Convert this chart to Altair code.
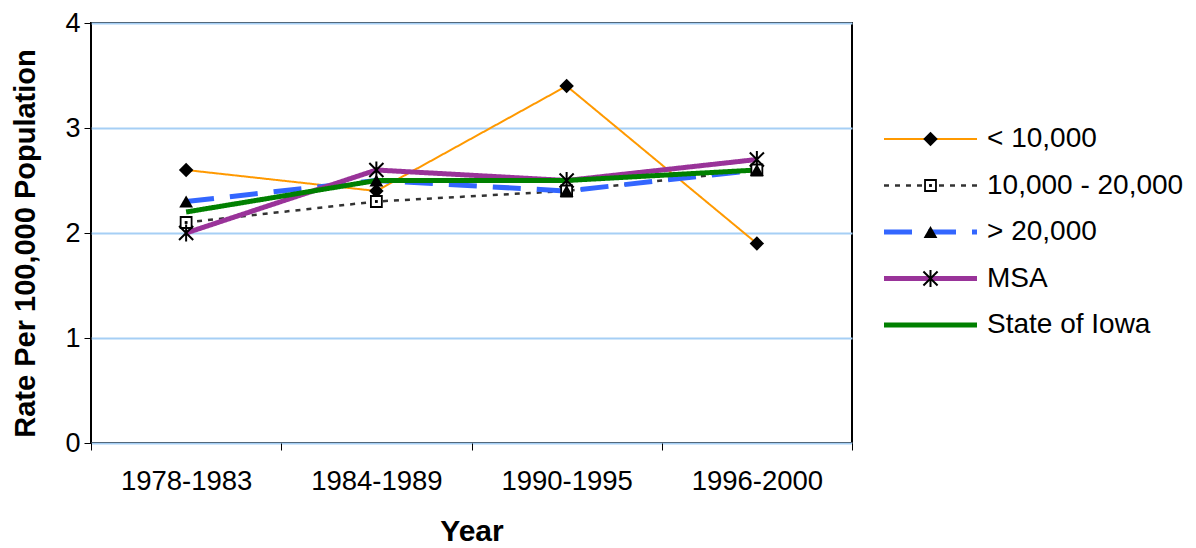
import altair as alt
import pandas as pd

periods = ["1978-1983", "1984-1989", "1990-1995", "1996-2000"]
series_names = ["< 10,000", "10,000 - 20,000", "> 20,000", "MSA", "State of Iowa"]
lt_10k = [2.6, 2.4, 3.4, 1.9]
k10_20 = [2.1, 2.3, 2.4, 2.6]
gt_20k = [2.3, 2.5, 2.4, 2.6]
msa = [2.0, 2.6, 2.5, 2.7]
iowa = [2.2, 2.5, 2.5, 2.6]
y_ticks = [0, 1, 2, 3, 4]

series_values = [lt_10k, k10_20, gt_20k, msa, iowa]

rows = []
for name, vals in zip(series_names, series_values):
    for p, v in zip(periods, vals):
        rows.append({"series": name, "period": p, "rate": v})
df = pd.DataFrame(rows)

ASTERISK = "M-1,-1L1,1M-1,1L1,-1M0,-1.2L0,1.2"
styles = {
    "< 10,000": dict(color="#FF9900", width=2, dash=[1, 0]),
    "10,000 - 20,000": dict(color="#333333", width=2.5, dash=[5, 6]),
    "> 20,000": dict(color="#3366FF", width=5, dash=[28, 16]),
    "MSA": dict(color="#993399", width=5, dash=[1, 0]),
    "State of Iowa": dict(color="#008000", width=5, dash=[1, 0]),
}
FONT = "Liberation Sans"

base = alt.Chart(df).encode(
    x=alt.X(
        "period:N", sort=periods,
        scale=alt.Scale(type="band", paddingInner=0, paddingOuter=0),
        axis=alt.Axis(
            title="Year", titleFontSize=30, titleFontWeight="bold", titleFont=FONT,
            titleColor="black", titlePadding=22,
            labelAngle=0, labelFontSize=27.5, labelFont=FONT, labelColor="black",
            labelPadding=17, tickBand="extent", tickSize=7, tickColor="black",
            domain=False, grid=False,
        ),
    ),
    y=alt.Y(
        "rate:Q", scale=alt.Scale(domain=[0, 4], nice=False),
        axis=alt.Axis(
            values=y_ticks, title="Rate Per 100,000 Population", titleFontSize=29,
            titleFontWeight="bold", titleFont=FONT, titleColor="black", titlePadding=24,
            titleY=220,
            labelFontSize=27, labelFont=FONT, labelColor="black", labelPadding=4,
            tickSize=7, tickColor="black", domain=False, grid=True,
            gridColor="#a6cff5", gridWidth=2,
        ),
    ),
)

layers = []
for name in series_names:
    s = styles[name]
    layers.append(
        base.transform_filter(alt.datum.series == name).mark_line(
            color=s["color"], strokeWidth=s["width"], strokeDash=s["dash"]
        )
    )


def markers(chart, name):
    f = chart.transform_filter(alt.datum.series == name)
    if name == "< 10,000":
        return [f.mark_point(shape="diamond", filled=True, color="black", size=210, opacity=1)]
    if name == "10,000 - 20,000":
        return [
            f.mark_point(shape="square", fill="white", stroke="black", strokeWidth=1.8, size=120, opacity=1, fillOpacity=1),
            f.mark_point(shape="square", filled=True, color="black", size=8, opacity=1),
        ]
    if name == "> 20,000":
        return [f.mark_point(shape="triangle-up", filled=True, color="black", size=190, opacity=1)]
    if name == "MSA":
        return [f.mark_point(shape=ASTERISK, filled=False, stroke="black", strokeWidth=2, size=200, opacity=1)]
    return []


for name in series_names:
    layers.extend(markers(base, name))

main = alt.layer(*layers).properties(
    width=761, height=420,
    view=alt.ViewBackground(stroke="black", strokeWidth=2),
)

# legend panel
leg_rows = []
for name in series_names:
    for pos in (0.0, 1.0):
        leg_rows.append({"series": name, "pos": pos})
leg_df = pd.DataFrame(leg_rows)
leg_mid = pd.DataFrame({"series": series_names, "pos": [0.5] * len(series_names)})
leg_txt = pd.DataFrame({"series": series_names, "pos": [1.0] * len(series_names)})

ly = alt.Y("series:N", sort=series_names,
           scale=alt.Scale(type="point", range=[116, 302], padding=0), axis=None)
lx = alt.X("pos:Q", scale=alt.Scale(domain=[0, 1]), axis=None)

leg_layers = []
for name in series_names:
    s = styles[name]
    leg_layers.append(
        alt.Chart(leg_df).transform_filter(alt.datum.series == name).mark_line(
            color=s["color"], strokeWidth=s["width"], strokeDash=s["dash"]
        ).encode(x=lx, y=ly)
    )
mid_base = alt.Chart(leg_mid).encode(x=lx, y=ly)
for name in series_names:
    leg_layers.extend(markers(mid_base, name))
leg_layers.append(
    alt.Chart(leg_txt).mark_text(
        align="left", baseline="middle", dx=10, fontSize=28, font=FONT, color="black"
    ).encode(x=lx, y=ly, text="series:N")
)
legend = alt.layer(*leg_layers).properties(
    width=93, height=420, view=alt.ViewBackground(stroke=None)
)

chart = alt.hconcat(main, legend, spacing=20).properties(
    padding={"left": 2, "top": 0, "right": 0, "bottom": 0}
).configure(font=FONT).configure_view(strokeWidth=0)

chart.save("out.html", embed_options={"renderer": "svg", "actions": False})
